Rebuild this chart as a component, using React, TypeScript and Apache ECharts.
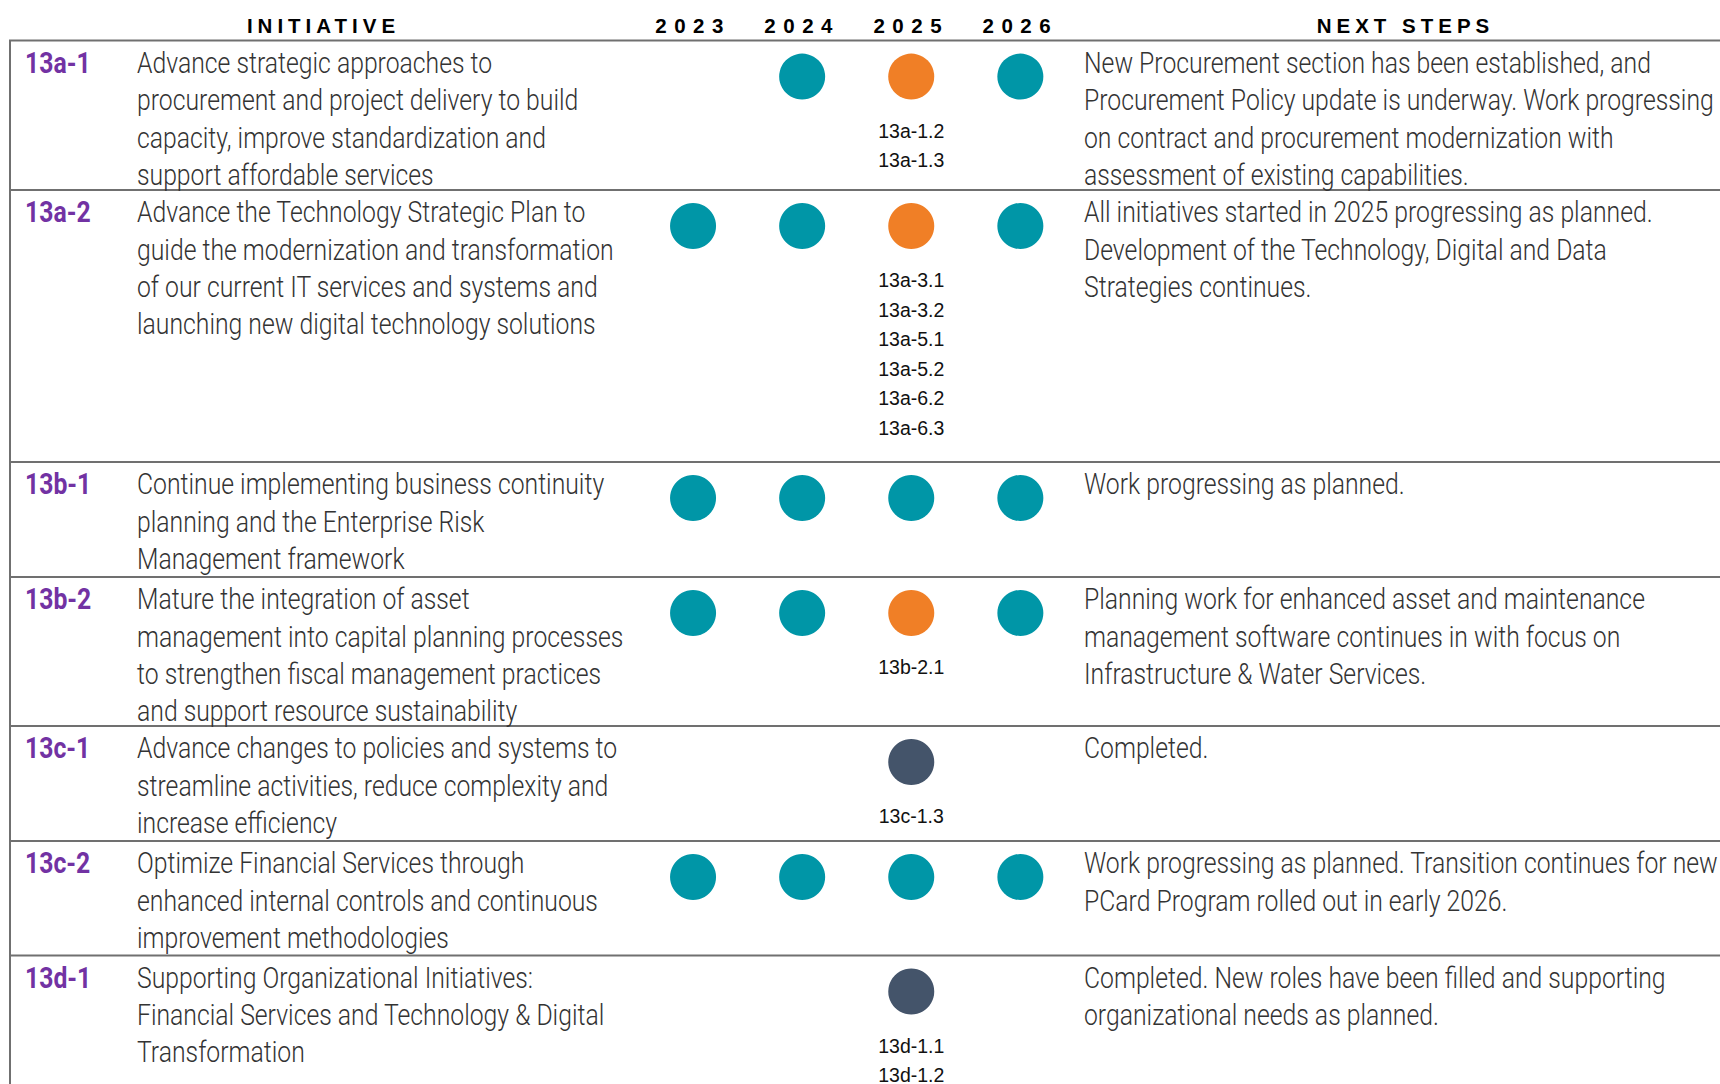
import React, { useEffect, useRef } from "react";
import * as echarts from "echarts";

// ---------- data ----------
const years = ["2023", "2024", "2025", "2026"];
const ids = ["13a-1", "13a-2", "13b-1", "13b-2", "13c-1", "13c-2", "13d-1"];
const initiatives = [
  ["Advance strategic approaches to", "procurement and project delivery to build", "capacity, improve standardization and", "support affordable services"],
  ["Advance the Technology Strategic Plan to", "guide the modernization and transformation", "of our current IT services and systems and", "launching new digital technology solutions"],
  ["Continue implementing business continuity", "planning and the Enterprise Risk", "Management framework"],
  ["Mature the integration of asset", "management into capital planning processes", "to strengthen fiscal management practices", "and support resource sustainability"],
  ["Advance changes to policies and systems to", "streamline activities, reduce complexity and", "increase efficiency"],
  ["Optimize Financial Services through", "enhanced internal controls and continuous", "improvement methodologies"],
  ["Supporting Organizational Initiatives:", "Financial Services and Technology & Digital", "Transformation"],
];
const nextSteps = [
  ["New Procurement section has been established, and", "Procurement Policy update is underway. Work progressing", "on contract and procurement modernization with", "assessment of existing capabilities."],
  ["All initiatives started in 2025 progressing as planned.", "Development of the Technology, Digital and Data", "Strategies continues."],
  ["Work progressing as planned."],
  ["Planning work for enhanced asset and maintenance", "management software continues in with focus on", "Infrastructure & Water Services."],
  ["Completed."],
  ["Work progressing as planned. Transition continues for new", "PCard Program rolled out in early 2026."],
  ["Completed. New roles have been filled and supporting", "organizational needs as planned."],
];
// T = in progress (teal), O = started this year (orange), D = completed (dark)
const status = [
  ["", "T", "O", "T"],
  ["T", "T", "O", "T"],
  ["T", "T", "T", "T"],
  ["T", "T", "O", "T"],
  ["", "", "D", ""],
  ["T", "T", "T", "T"],
  ["", "", "D", ""],
];
const subLabels = [
  ["13a-1.2", "13a-1.3"],
  ["13a-3.1", "13a-3.2", "13a-5.1", "13a-5.2", "13a-6.2", "13a-6.3"],
  [],
  ["13b-2.1"],
  ["13c-1.3"],
  [],
  ["13d-1.1", "13d-1.2"],
];

// ---------- layout ----------
const W = 1720;
const H = 1084;
const HEADER_LINE = 40.6;
const rowHeights = [149.4, 272, 115, 149, 115, 114.5, 200];
const LEFT_BORDER = 10;
const ID_X = 25;
const INIT_X = 137;
const NEXT_X = 1084;
const LINE_H = 37.3;
const CIRCLE_OFFSET = 36;
const GRID_LEFT = 638.5;
const GRID_WIDTH = 436.4;
const CONDENSE = 0.825;

const BODY_FONT = 'Roboto, "Liberation Sans", sans-serif';
const SUB_FONT = '"Liberation Sans", Arial, sans-serif';
const TEXT_COLOR = "#333333";
const ID_COLOR = "#7232A3";
const LINE_COLOR = "#707070";
const COLORS: Record<string, string> = { T: "#0096A7", O: "#F07F26", D: "#44546A" };

export default function App() {
  const ref = useRef<HTMLDivElement>(null);

  useEffect(() => {
    if (!ref.current) return;
    const chart = echarts.init(ref.current, undefined, { renderer: "svg" });

    const rowTops: number[] = [];
    let acc = HEADER_LINE;
    rowHeights.forEach((h) => {
      rowTops.push(acc);
      acc += h;
    });

    const graphics: any[] = [];
    // header texts
    graphics.push({
      type: "text", x: 321 + 2.5, y: 25,
      style: { text: "INITIATIVE", fontSize: 20.5, fontWeight: "bold", fontFamily: SUB_FONT, fill: "#000", align: "center", verticalAlign: "middle" },
    });
    graphics.push({
      type: "text", x: 1403 + 2.5, y: 25,
      style: { text: "NEXT STEPS", fontSize: 20.5, fontWeight: "bold", fontFamily: SUB_FONT, fill: "#000", align: "center", verticalAlign: "middle" },
    });
    // lines
    rowTops.forEach((t) => {
      graphics.push({ type: "line", shape: { x1: LEFT_BORDER - 1, y1: t, x2: W, y2: t }, style: { stroke: LINE_COLOR, lineWidth: 2 } });
    });
    graphics.push({ type: "line", shape: { x1: LEFT_BORDER, y1: HEADER_LINE, x2: LEFT_BORDER, y2: H }, style: { stroke: LINE_COLOR, lineWidth: 2 } });

    // row texts
    rowTops.forEach((t, i) => {
      const y = t + 22 - LINE_H / 2;
      graphics.push({
        type: "text", x: ID_X, y, scaleX: CONDENSE,
        style: { text: ids[i], fontSize: 30, fontWeight: "bold", fontFamily: BODY_FONT, fill: ID_COLOR, lineHeight: LINE_H, align: "left", verticalAlign: "top" },
      });
      graphics.push({
        type: "text", x: INIT_X, y, scaleX: CONDENSE,
        style: { text: initiatives[i].join("\n"), fontSize: 30, fontWeight: 300, fontFamily: BODY_FONT, fill: TEXT_COLOR, lineHeight: LINE_H, align: "left", verticalAlign: "top" },
      });
      graphics.push({
        type: "text", x: NEXT_X, y, scaleX: CONDENSE,
        style: { text: nextSteps[i].join("\n"), fontSize: 30, fontWeight: 300, fontFamily: BODY_FONT, fill: TEXT_COLOR, lineHeight: LINE_H, align: "left", verticalAlign: "top" },
      });
    });

    const makeSeries = (code: string) => {
      const data: any[] = [];
      status.forEach((row, i) => {
        row.forEach((s, j) => {
          if (s !== code) return;
          const item: any = { value: [j, rowTops[i] + CIRCLE_OFFSET] };
          if (j === 2 && subLabels[i].length) {
            item.label = {
              show: true,
              position: "bottom",
              distance: 16.25,
              formatter: subLabels[i].join("\n"),
              fontSize: 19.5,
              lineHeight: 29.5,
              fontFamily: SUB_FONT,
              color: "#111111",
            };
          }
          data.push(item);
        });
      });
      return {
        type: "scatter",
        symbol: "circle",
        symbolSize: 46,
        itemStyle: { color: COLORS[code], opacity: 1 },
        data,
        silent: true,
        label: { show: false },
      };
    };

    chart.setOption({
      animation: false,
      grid: { left: GRID_LEFT, width: GRID_WIDTH, top: 0, height: H },
      xAxis: {
        type: "category",
        data: years,
        position: "top",
        axisLine: { show: false },
        axisTick: { show: false },
        splitLine: { show: false },
        axisLabel: {
          inside: true,
          margin: 25,
          verticalAlign: "middle",
          fontSize: 20.5,
          fontWeight: "bold",
          fontFamily: SUB_FONT,
          color: "#000",
        },
      },
      yAxis: { type: "value", inverse: true, min: 0, max: H, show: false },
      series: ["T", "O", "D"].map(makeSeries),
      graphic: graphics,
    });

    const applySpacing = () => {
      const el = ref.current;
      if (!el) return;
      el.querySelectorAll("text").forEach((t) => {
        const s = (t.textContent || "").trim();
        if (s === "INITIATIVE" || s === "NEXT STEPS") t.setAttribute("letter-spacing", "5");
        else if (years.includes(s)) t.setAttribute("letter-spacing", "7.5");
      });
    };
    applySpacing();
    const raf = requestAnimationFrame(applySpacing);
    const to = setTimeout(applySpacing, 50);

    return () => {
      cancelAnimationFrame(raf);
      clearTimeout(to);
      chart.dispose();
    };
  }, []);

  return <div ref={ref} style={{ position: "absolute", left: 0, top: 0, width: W, height: H, background: "#fff" }} />;
}
